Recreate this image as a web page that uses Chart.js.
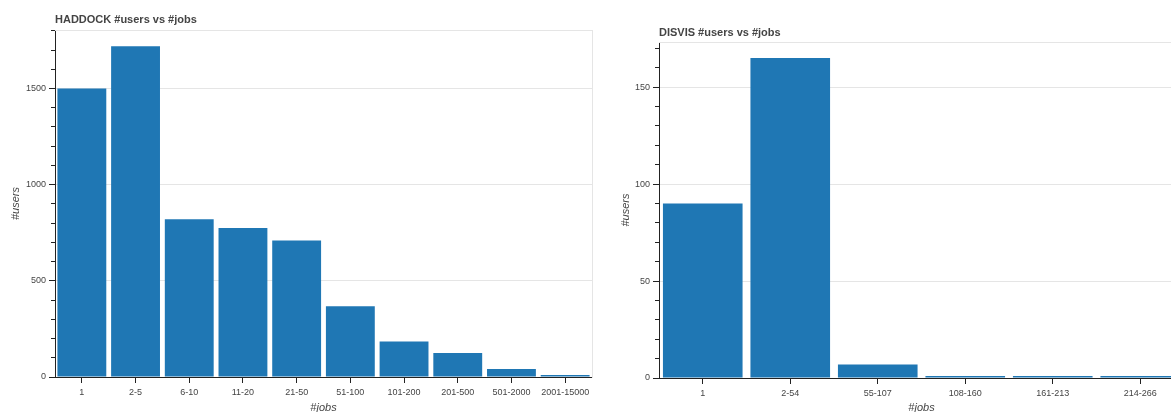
<!DOCTYPE html>
<html>
<head>
<meta charset="utf-8">
<script src="https://cdn.jsdelivr.net/npm/chart.js@4"></script>
<style>
    body { margin: 0; width: 1171px; height: 412px; overflow: hidden; position: relative; background: #fff; font-family: "Liberation Sans", Arial, sans-serif; }
    .box { position: absolute; top: 0; width: 600px; height: 420px; }
    .title { position: absolute; font-size: 11px; font-weight: bold; color: #444; white-space: nowrap; }
</style>
</head>
<body>
<div class="box" style="left:0"><canvas id="haddockChart" width="600" height="420"></canvas></div>
<div class="box" style="left:600px"><canvas id="disvisChart" width="600" height="420"></canvas></div>
<div class="title" style="left:55px; top:13px">HADDOCK #users vs #jobs</div>
<div class="title" style="left:659px; top:26px">DISVIS #users vs #jobs</div>
<script>
const haddockBins = ['1', '2-5', '6-10', '11-20', '21-50', '51-100', '101-200', '201-500', '501-2000', '2001-15000'];
const haddockUsers = [1500, 1719, 820, 775, 709, 368, 185, 125, 42, 10];

const disvisBins = ['1', '2-54', '55-107', '108-160', '161-213', '214-266'];
const disvisUsers = [90, 165, 7, 1, 1, 1];

Chart.defaults.font.family = '"Liberation Sans", Arial, sans-serif';
Chart.defaults.color = '#444';

function makeChart(id, bins, users, opts) {
    const ctx = document.getElementById(id).getContext('2d');
    const isMajor = (c) => c.tick && c.tick.value % opts.major === 0;
    return new Chart(ctx, {
        type: 'bar',
        data: {
            labels: bins,
            datasets: [{
                label: '#users',
                data: users,
                backgroundColor: '#1f77b4',
                borderWidth: 0,
                barPercentage: 0.91,
                categoryPercentage: 1
            }]
        },
        options: {
            responsive: false,
            animation: false,
            layout: { padding: { top: opts.top, right: opts.right, bottom: 0, left: 0 } },
            plugins: { legend: { display: false }, tooltip: { enabled: false } },
            scales: {
                x: {
                    grid: { drawOnChartArea: false, offset: false, tickLength: 6, tickColor: '#222' },
                    border: { color: '#222' },
                    ticks: { autoSkip: false, maxRotation: 0, padding: 4, font: { size: 9 } },
                    title: { display: true, text: '#jobs', font: { size: 11, style: 'italic' }, padding: { top: 0, bottom: 5 } },
                    afterFit: (s) => { s.height = opts.xHeight; }
                },
                y: {
                    min: 0,
                    max: opts.max,
                    grid: {
                        color: (c) => isMajor(c) ? '#e5e5e5' : 'rgba(0,0,0,0)',
                        tickLength: 6,
                        tickColor: '#222',
                        tickBorderDash: (c) => isMajor(c) ? [] : [0, 2, 20]
                    },
                    border: { color: '#222' },
                    ticks: {
                        autoSkip: false,
                        padding: 3,
                        font: { size: 9 },
                        callback: (v) => v % opts.major === 0 ? String(v) : ''
                    },
                    // major + minor tick marks every opts.minor units
                    afterBuildTicks: (s) => {
                        const t = [];
                        for (let v = 0; v <= opts.max; v += opts.minor) t.push({ value: v });
                        s.ticks = t;
                    },
                    title: { display: true, text: '#users', font: { size: 11, style: 'italic' }, padding: { top: opts.yTitlePad, bottom: 0 } },
                    afterFit: (s) => { s.width = opts.yWidth; }
                },
                // plot outline on top and right
                x2: {
                    position: 'top',
                    grid: { display: false, drawTicks: false },
                    ticks: { display: false },
                    border: { color: '#e5e5e5' },
                    afterFit: (s) => { s.height = 0; }
                },
                y2: {
                    position: 'right',
                    min: 0,
                    max: opts.max,
                    grid: { display: false, drawTicks: false },
                    ticks: { display: false },
                    border: { color: '#e5e5e5' },
                    afterFit: (s) => { s.width = 0; }
                }
            }
        }
    });
}

makeChart('haddockChart', haddockBins, haddockUsers, {
    max: 1804, major: 500, minor: 100, top: 30, right: 8, xHeight: 43, yWidth: 55, yTitlePad: 9
});
makeChart('disvisChart', disvisBins, disvisUsers, {
    max: 173.25, major: 50, minor: 10, top: 42, right: 16, xHeight: 42, yWidth: 59, yTitlePad: 19
});
</script>
</body>
</html>
